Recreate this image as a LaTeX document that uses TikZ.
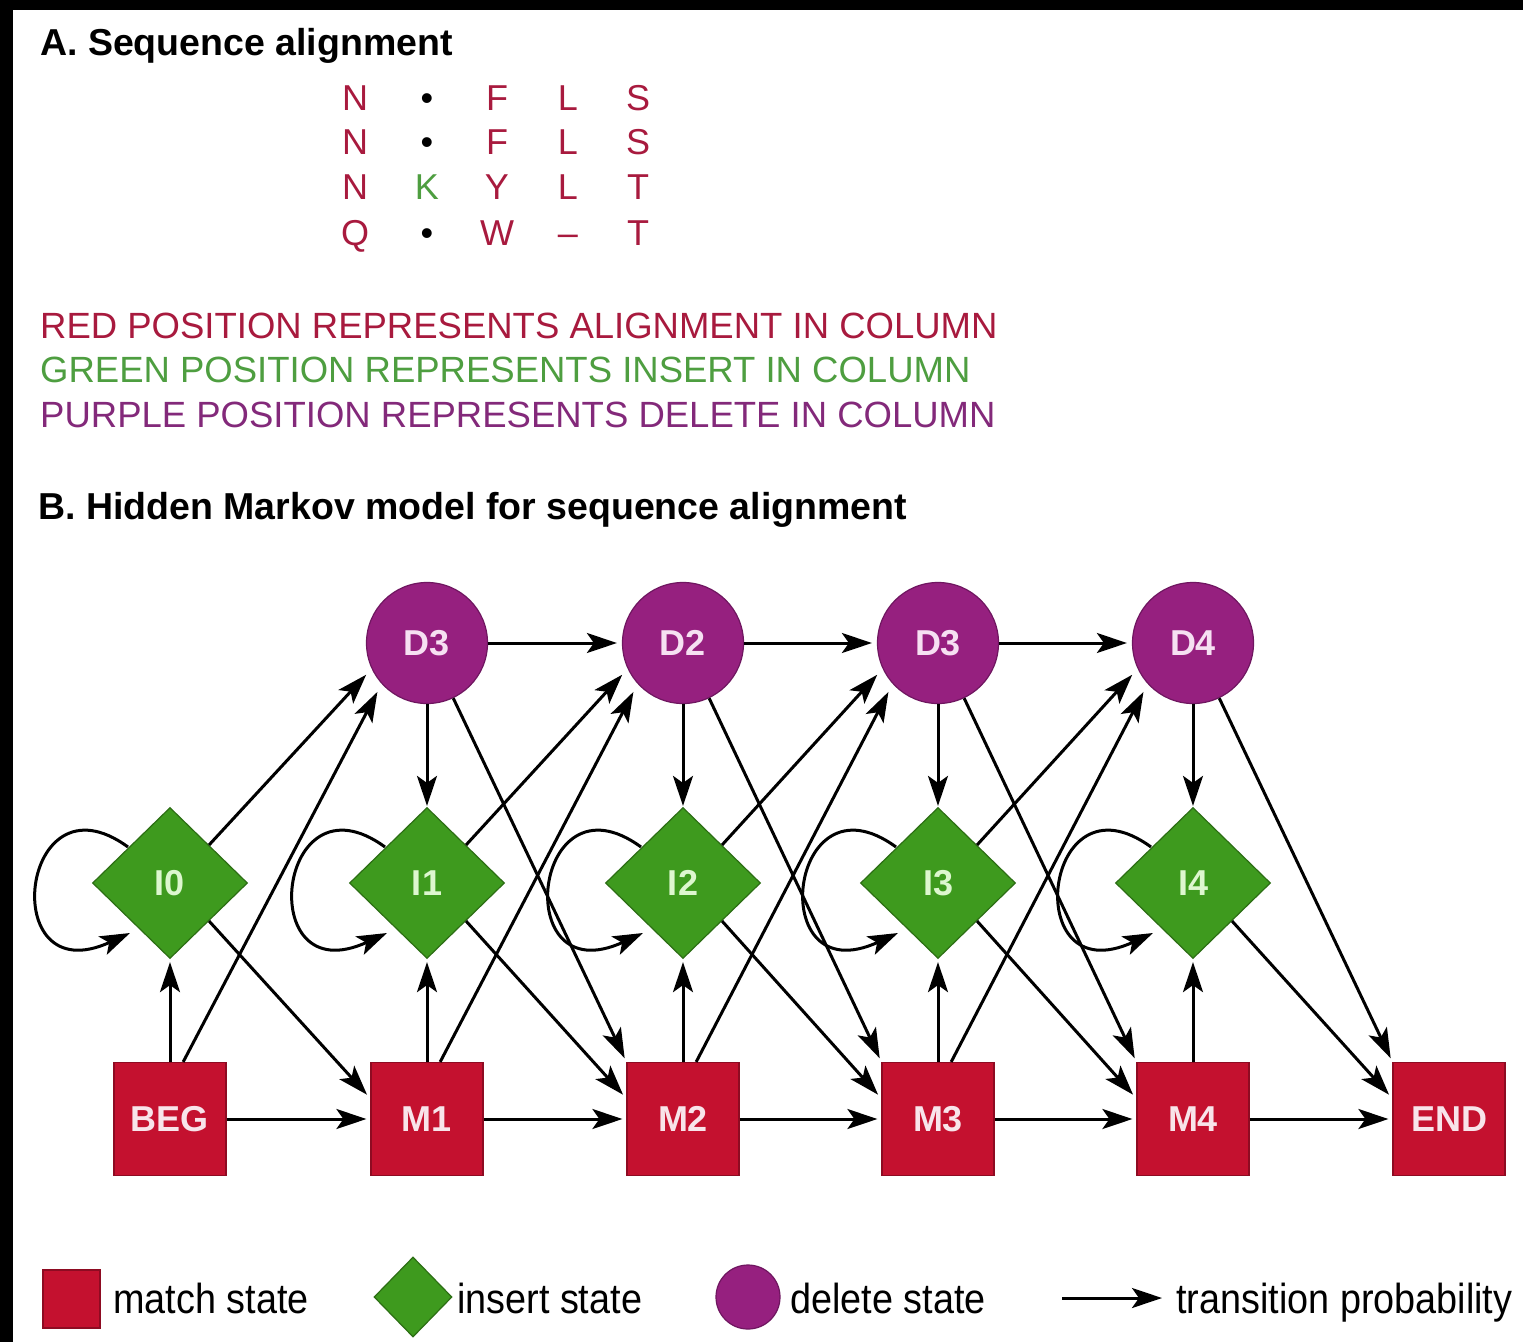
\documentclass[tikz,border=0pt]{standalone}
\usepackage{fontspec}
\setmainfont{Liberation Sans}
\usetikzlibrary{shapes.geometric,arrows.meta,calc}

\definecolor{matchred}{HTML}{C4112F}
\definecolor{matchedge}{HTML}{8E0B22}
\definecolor{insertgreen}{HTML}{3E9A1E}
\definecolor{insertedge}{HTML}{2C6E14}
\definecolor{deletepurple}{HTML}{96207F}
\definecolor{deleteedge}{HTML}{6F1660}
\definecolor{txtred}{HTML}{A81A3E}
\definecolor{txtgreen}{HTML}{4E9E40}
\definecolor{txtpurple}{HTML}{83297A}
\definecolor{lblpink}{HTML}{F8E4EA}
\definecolor{lblgreen}{HTML}{DDF7CF}
\definecolor{lblpurple}{HTML}{F6E0F2}

\tikzset{
  matchst/.style={rectangle, fill=matchred, draw=matchedge, line width=1.2pt,
    minimum width=112pt, minimum height=113pt, inner sep=0pt, text=lblpink,
    font=\fontsize{36}{36}\selectfont\bfseries},
  insertst/.style={diamond, aspect=1, fill=insertgreen, draw=insertedge, line width=1.2pt,
    minimum width=155pt, minimum height=151pt, inner sep=0pt, text=lblgreen,
    font=\fontsize{36}{36}\selectfont\bfseries},
  deletest/.style={circle, fill=deletepurple, draw=deleteedge, line width=1.2pt,
    minimum size=121pt, inner sep=0pt, text=lblpurple,
    font=\fontsize{36}{36}\selectfont\bfseries},
  transition/.style={line width=3pt, draw=black,
    -{Stealth[length=30pt,width=20pt,inset=7pt]}},
  heading/.style={anchor=base west, inner sep=0pt, font=\fontsize{37.5}{37.5}\selectfont\bfseries},
  keyline/.style={anchor=base west, inner sep=0pt, font=\fontsize{36.5}{36.5}\selectfont},
  residue/.style={anchor=base, inner sep=0pt, font=\fontsize{36}{36}\selectfont},
  legendtext/.style={anchor=base west, inner sep=0pt, font=\fontsize{42}{42}\selectfont},
}

\begin{document}
\begin{tikzpicture}[x=1pt,y=-1pt]
\useasboundingbox (0,0) rectangle (1523,1342);
\fill[white] (0,0) rectangle (1523,1342);
\fill[black] (0,0) rectangle (1523,10);
\fill[black] (0,0) rectangle (13,1342);

% ---- Part A: the alignment ----
\node[heading] (titleA) at (40,55) {A.\ Sequence alignment};

% residues sit on the baseline of each row
\foreach \r/\y/\a/\b/\cc/\d/\e/\bcol in {
   1/110/N/\textbullet/F/L/S/black,
   2/154/N/\textbullet/F/L/S/black,
   3/199/N/K/Y/L/T/txtgreen,
   4/245/Q/\textbullet/W/\textendash/T/black}{
  \node[residue, text=txtred]  (r\r c1) at (355,\y) {\a};
  \node[residue, text=\bcol]   (r\r c2) at (427,\y) {\b};
  \node[residue, text=txtred]  (r\r c3) at (497,\y) {\cc};
  \node[residue, text=txtred]  (r\r c4) at (568,\y) {\d};
  \node[residue, text=txtred]  (r\r c5) at (638,\y) {\e};
}

\node[keyline, text=txtred]    (keyred)    at (40,338) {RED POSITION REPRESENTS ALIGNMENT IN COLUMN};
\node[keyline, text=txtgreen]  (keygreen)  at (40,382) {GREEN POSITION REPRESENTS INSERT IN COLUMN};
\node[keyline, text=txtpurple] (keypurple) at (40,427) {PURPLE POSITION REPRESENTS DELETE IN COLUMN};

% ---- Part B: the profile HMM ----
\node[heading] (titleB) at (38,519) {B.\ Hidden Markov model for sequence alignment};

% match states
\foreach \n/\x in {BEG/170,M1/427,M2/683,M3/938,M4/1193,END/1449}{
  \node[matchst] (\n) at (\x,1119) {\n};
}
% insert states
\foreach \n/\x in {I0/170,I1/427,I2/683,I3/938,I4/1193}{
  \node[insertst] (\n) at (\x,883) {\n};
}
% delete states (labels as printed)
\foreach \n/\x/\t in {D1/427/D3,D2/683/D2,D3/938/D3,D4/1193/D4}{
  \node[deletest] (\n) at (\x,643) {\t};
}

% match chain
\foreach \a/\b in {BEG/M1,M1/M2,M2/M3,M3/M4,M4/END}{
  \draw[transition, shorten >=4pt] (\a) -- (\b);
}
% delete chain
\foreach \a/\b in {D1/D2,D2/D3,D3/D4}{
  \draw[transition, shorten >=5pt] (\a) -- (\b);
}
% match -> insert, delete -> insert
\foreach \m/\i in {BEG/I0,M1/I1,M2/I2,M3/I3,M4/I4}{
  \draw[transition, shorten >=3pt] (\m) -- (\i);
}
\foreach \d/\i in {D1/I1,D2/I2,D3/I3,D4/I4}{
  \draw[transition, shorten >=1pt] (\d) -- (\i);
}
% insert self-loops
\foreach \i in {I0,I1,I2,I3,I4}{
  \draw[transition] ($(\i)+(-42,-36)$) .. controls ($(\i)+(-150,-115)$) and ($(\i)+(-175,112)$) .. ($(\i)+(-40,50)$);
}
% insert -> next delete, match -> next delete
\foreach \i/\m/\d in {I0/BEG/D1,I1/M1/D2,I2/M2/D3,I3/M3/D4}{
  \draw[transition, shorten >=8pt] (\i.north east) -- (\d.205);
  \draw[transition, shorten >=9pt] (\m.77) -- (\d.222);
}
% insert -> next match, delete -> next match
\foreach \i/\n in {I0/M1,I1/M2,I2/M3,I3/M4,I4/END}{
  \draw[transition, shorten >=5pt] (\i.south east) -- (\n.160);
}
\foreach \d/\n in {D1/M2,D2/M3,D3/M4,D4/END}{
  \draw[transition, shorten >=4pt] (\d) -- (\n.north west);
}

% ---- legend ----
\node[matchst, minimum width=57pt, minimum height=58pt] (keymatch) at (71.5,1299) {};
\node[legendtext] (keymatchtxt) at (113,1313) {\scalebox{0.9}[1]{match state}};
\node[insertst, minimum width=78pt, minimum height=80pt] (keyinsert) at (413,1297) {};
\node[legendtext] (keyinserttxt) at (457,1313) {\scalebox{0.9}[1]{insert state}};
\node[deletest, minimum size=64pt] (keydelete) at (748,1297) {};
\node[legendtext] (keydeletetxt) at (790,1313) {\scalebox{0.9}[1]{delete state}};
\coordinate (keyarrowa) at (1062,1298);
\coordinate (keyarrowb) at (1162,1298);
\draw[transition] (keyarrowa) -- (keyarrowb);
\node[legendtext] (keyarrowtxt) at (1176,1313) {\scalebox{0.9}[1]{transition probability}};
\end{tikzpicture}
\end{document}
